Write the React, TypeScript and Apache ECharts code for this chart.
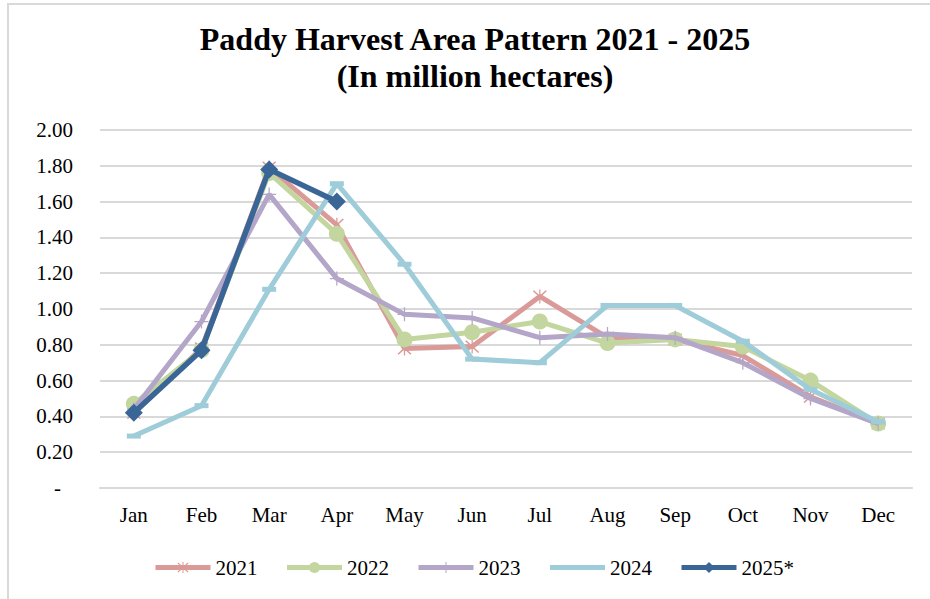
import React, { useEffect, useRef } from "react";
import * as echarts from "echarts";

const months = ["Jan", "Feb", "Mar", "Apr", "May", "Jun", "Jul", "Aug", "Sep", "Oct", "Nov", "Dec"];
const seriesNames = ["2021", "2022", "2023", "2024", "2025*"];
const v2021 = [0.42, 0.78, 1.79, 1.47, 0.78, 0.79, 1.07, 0.84, 0.83, 0.74, 0.51, 0.36];
const v2022 = [0.47, 0.77, 1.76, 1.42, 0.83, 0.87, 0.93, 0.81, 0.83, 0.79, 0.60, 0.36];
const v2023 = [0.44, 0.93, 1.64, 1.17, 0.97, 0.95, 0.84, 0.86, 0.84, 0.70, 0.50, 0.36];
const v2024 = [0.29, 0.46, 1.11, 1.70, 1.25, 0.72, 0.70, 1.02, 1.02, 0.82, 0.55, 0.37];
const v2025 = [0.42, 0.77, 1.78, 1.60];
const colors = ["#D99A98", "#C3D69F", "#B4A6C8", "#9ECCD9", "#3A6597"];
const titleLines = ["Paddy Harvest Area Pattern 2021 - 2025", "(In million hectares)"];

const FONT = "Liberation Serif";
const STAR =
  "path://M9.2,0h1.6v20h-1.6z M1,2.4L2.4,1L19,17.6L17.6,19z M17.6,1L19,2.4L2.4,19L1,17.6z";
const PLUS = "path://M9.1,0h1.8v20h-1.8z M0,9.1h20v1.8h-20z";

export default function App() {
  const ref = useRef<HTMLDivElement>(null);
  useEffect(() => {
    document.body.style.margin = "0";
    const chart = echarts.init(ref.current!, null, { renderer: "svg" });
    const data = [v2021, v2022, v2023, v2024, v2025];
    const symbols: any[] = [STAR, "circle", PLUS, "rect", "diamond"];
    const sizes: any[] = [14, 16, 14, [14, 5], 18];
    chart.setOption({
      animation: false,
      backgroundColor: "#ffffff",
      color: colors,
      textStyle: { fontFamily: FONT },
      graphic: [
        { type: "rect", shape: { x: 7, y: 3, width: 923, height: 2 }, style: { fill: "#d9d9d9" } },
        { type: "rect", shape: { x: 7, y: 3, width: 2, height: 596 }, style: { fill: "#d9d9d9" } },
        {
          type: "text",
          x: 475,
          y: 20,
          style: {
            text: titleLines.join("\n"),
            fontFamily: FONT,
            fontSize: 32,
            fontWeight: "bold",
            lineHeight: 37,
            fill: "#000",
            align: "center",
          },
        },
      ],
      grid: { left: 100, right: 18, top: 130, bottom: 111 },
      legend: {
        data: seriesNames.map((n, i) => ({
          name: n,
          textStyle: { fontFamily: FONT, fontSize: 21, color: "#000" },
          ...(i === 3 ? { itemStyle: { opacity: 0 } } : {}),
        })),
        left: 148,
        top: 552,
        itemWidth: 55,
        itemHeight: 14,
        itemGap: 27,
        lineStyle: { width: 5 },
        textStyle: { fontFamily: FONT, fontSize: 21, color: "#000" },
      },
      xAxis: {
        type: "category",
        data: months,
        boundaryGap: true,
        axisLine: { show: true, lineStyle: { color: "#d9d9d9", width: 2 } },
        axisTick: { show: false },
        axisLabel: { fontFamily: FONT, fontSize: 21, color: "#000", margin: 16 },
      },
      yAxis: {
        type: "value",
        min: 0,
        max: 2,
        interval: 0.2,
        axisLine: { show: false },
        axisTick: { show: false },
        splitLine: { lineStyle: { color: "#d9d9d9", width: 2 } },
        axisLabel: {
          fontFamily: FONT,
          fontSize: 21,
          color: "#000",
          margin: 27,
          formatter: (v: number) => (v === 0 ? "{d|-}" : v.toFixed(2)),
          rich: { d: { fontFamily: FONT, fontSize: 21, color: "#000", padding: [0, 12, 0, 0] } },
        },
      },
      series: data.map((d, i) => ({
        name: seriesNames[i],
        type: "line",
        data: d,
        symbol: symbols[i],
        symbolSize: sizes[i],
        showAllSymbol: true,
        lineStyle: { width: i === 4 ? 5.5 : 5, color: colors[i] },
        itemStyle: { color: colors[i], borderWidth: 0 },
        z: 2 + i,
      })),
    });
    return () => chart.dispose();
  }, []);
  return <div ref={ref} style={{ width: 930, height: 599 }} />;
}
